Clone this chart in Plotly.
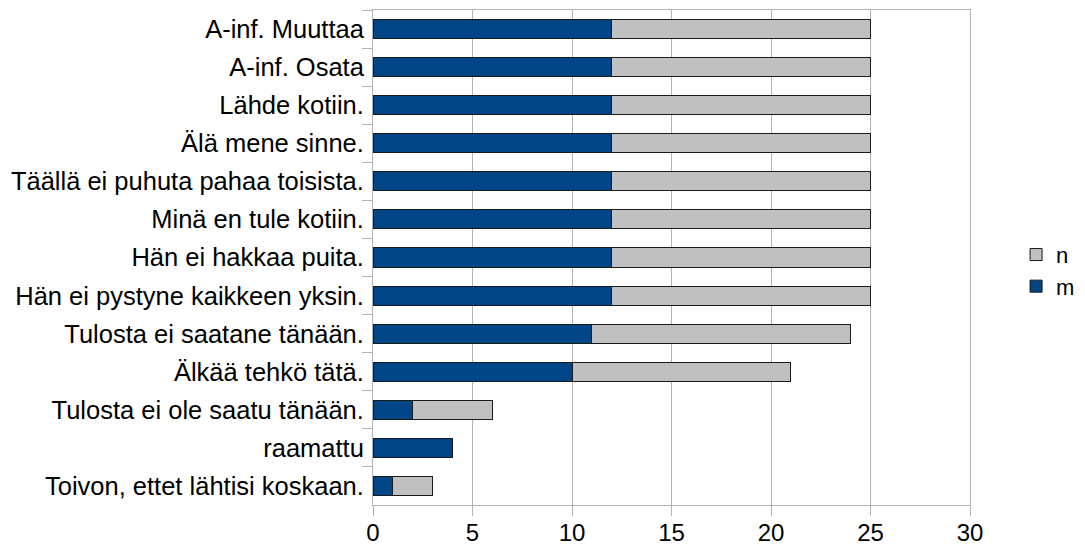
import plotly.graph_objects as go

categories = [
    "A-inf. Muuttaa",
    "A-inf. Osata",
    "Lähde kotiin.",
    "Älä mene sinne.",
    "Täällä ei puhuta pahaa toisista.",
    "Minä en tule kotiin.",
    "Hän ei hakkaa puita.",
    "Hän ei pystyne kaikkeen yksin.",
    "Tulosta ei saatane tänään.",
    "Älkää tehkö tätä.",
    "Tulosta ei ole saatu tänään.",
    "raamattu",
    "Toivon, ettet lähtisi koskaan.",
]
m_values = [12, 12, 12, 12, 12, 12, 12, 12, 11, 10, 2, 4, 1]
n_values = [13, 13, 13, 13, 13, 13, 13, 13, 13, 11, 4, 0, 2]
x_ticks = [0, 5, 10, 15, 20, 25, 30]

fig = go.Figure()

fig.add_trace(go.Bar(
    x=m_values,
    y=categories,
    orientation='h',
    name='m',
    legendgroup='m',
    marker_color='#004586',
    marker_line=dict(color='#1a1a1a', width=1),
))
fig.add_trace(go.Bar(
    x=n_values,
    y=categories,
    orientation='h',
    name='n',
    legendgroup='n',
    marker_color='#c0c0c0',
    marker_line=dict(color='#1a1a1a', width=1),
))

# page body adds an 8px offset, so the figure is a little smaller than the window
fig.update_layout(
    width=1077,
    height=544,
    margin=dict(l=365, r=115, t=2, b=47),
    paper_bgcolor='white',
    plot_bgcolor='white',
    barmode='stack',
    bargap=0.5,
    font=dict(family='Liberation Sans, Arial, sans-serif', size=24, color='#000000'),
    legend=dict(
        xref='container',
        yref='container',
        x=0.936,
        y=0.517,
        xanchor='left',
        yanchor='middle',
        traceorder='reversed',
        font=dict(size=22),
        itemwidth=30,
        tracegroupgap=5,
    ),
)

fig.update_xaxes(
    range=[0, 30],
    tickvals=x_ticks,
    tickfont=dict(size=24),
    showgrid=True,
    gridcolor='#b3b3b3',
    gridwidth=1,
    zeroline=False,
    showline=True,
    linecolor='#b3b3b3',
    linewidth=1,
    mirror=True,
    ticks='outside',
    ticklen=10,
    tickcolor='#b3b3b3',
    ticklabelstandoff=-4,
    automargin=False,
)
fig.update_yaxes(
    categoryorder='array',
    categoryarray=categories,
    autorange='reversed',
    tickfont=dict(size=25.5),
    showgrid=False,
    showline=True,
    linecolor='#b3b3b3',
    linewidth=1,
    mirror=True,
    ticks='outside',
    tickson='boundaries',
    ticklen=10,
    tickcolor='#b3b3b3',
    ticklabelstandoff=3,
    automargin=False,
)

fig.write_html("out.html")
